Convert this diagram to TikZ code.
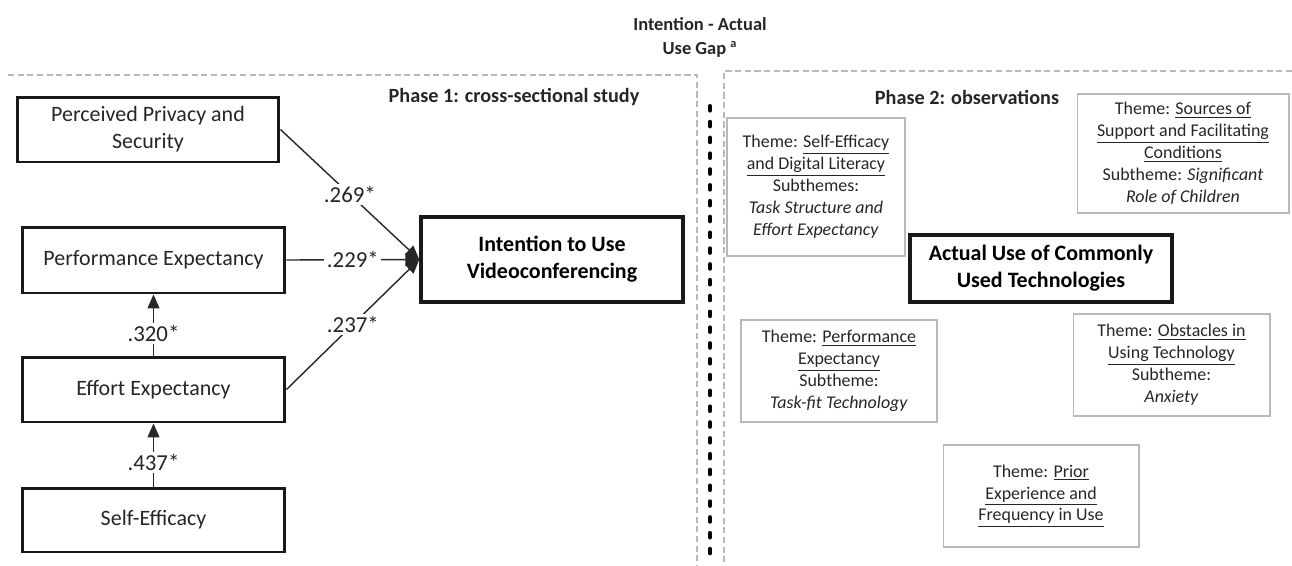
\documentclass[tikz,border=0pt]{standalone}
\usepackage{fontspec}
\setmainfont{Carlito}
\usetikzlibrary{arrows.meta,positioning}

\begin{document}
\begin{tikzpicture}[x=0.02cm,y=-0.02cm,
  construct/.style={draw=black!90,line width=1.7pt,align=center,text=black!85,
    font=\fontsize{12.5}{15.4}\selectfont,inner sep=2pt},
  outcome/.style={construct,line width=2pt,font=\bfseries\fontsize{12.5}{15.4}\selectfont,text=black},
  themebox/.style={draw=gray!55,line width=0.6pt,align=center,text=black!85,
    font=\fontsize{10.2}{12.5}\selectfont,inner sep=2pt},
  coef/.style={fill=white,inner sep=1.5pt,text=black!85,font=\fontsize{13}{15}\selectfont},
  effect/.style={line width=0.8pt,draw=black!85,-{Triangle[width=0.24cm,length=0.28cm]}},
  panel/.style={draw=gray!55,line width=0.7pt,dash pattern=on 3.5pt off 2pt},
  heading/.style={font=\bfseries\fontsize{11.5}{14}\selectfont,text=black!85},
]
\useasboundingbox (0,0) rectangle (1292,565);

% Title
\node[align=center,font=\bfseries\fontsize{10.5}{14}\selectfont,text=black!85] (gaptitle) at (700,37.5)
  {Intention - Actual\\Use Gap \textsuperscript{\scriptsize a}};

% Panels
\draw[panel] (8,75) -- (697,75) -- (697,565);
\draw[panel] (1292,71) -- (724,71) -- (724,565);
\draw[line width=2.3pt,line cap=round,dash pattern=on 2.6pt off 6.4pt] (710,106) -- (710,556);

\node[heading] (phaseone) at (514,97) {Phase 1: cross-sectional study};
\node[heading] (phasetwo) at (967,97) {Phase 2: observations};

% Phase 1 model
\node[construct,minimum width=5.24cm,minimum height=1.30cm] (privacy) at (148,129.5) {Perceived Privacy and\\Security};
\node[construct,minimum width=5.26cm,minimum height=1.32cm] (performance) at (153.5,260) {Performance Expectancy};
\node[construct,minimum width=5.26cm,minimum height=1.30cm] (effort) at (153.5,389.5) {Effort Expectancy};
\node[construct,minimum width=5.26cm,minimum height=1.28cm] (selfefficacy) at (153.5,520) {Self-Efficacy};
\node[outcome,minimum width=5.24cm,minimum height=1.70cm] (intention) at (552,259.5) {Intention to Use\\Videoconferencing};

\draw[effect] (privacy.east) -- node[coef] {.269*} (intention.west);
\draw[effect] (performance.east) -- node[coef] {.229*} (intention.west);
\draw[effect] (effort.east) -- node[coef] {.237*} (intention.west);
\draw[effect] (effort.north) -- node[coef,pos=0.36] {.320*} (performance.south);
\draw[effect] (selfefficacy.north) -- node[coef,pos=0.38] {.437*} (effort.south);

% Phase 2 themes
\node[outcome,minimum width=5.24cm,minimum height=1.34cm] (actualuse) at (1041,268.5) {Actual Use of Commonly\\Used Technologies};

\node[themebox,minimum width=3.56cm,minimum height=2.76cm] (thmefficacy) at (816,187)
  {Theme: \underline{Self-Efficacy}\\\underline{and Digital Literacy}\\Subthemes:\\\textit{Task Structure and}\\\textit{Effort Expectancy}};
\node[themebox,minimum width=4.24cm,minimum height=2.38cm] (thmsupport) at (1183,153.5)
  {Theme: \underline{Sources of}\\\underline{Support and Facilitating}\\\underline{Conditions}\\Subtheme: \textit{Significant}\\\textit{Role of Children}};
\node[themebox,minimum width=3.92cm,minimum height=2.04cm] (thmperformance) at (839,371)
  {Theme: \underline{Performance}\\\underline{Expectancy}\\Subtheme:\\\textit{Task-fit Technology}};
\node[themebox,minimum width=3.94cm,minimum height=2.04cm] (thmobstacles) at (1171.5,365)
  {Theme: \underline{Obstacles in}\\\underline{Using Technology}\\Subtheme:\\\textit{Anxiety}};
\node[themebox,minimum width=3.92cm,minimum height=2.04cm] (thmprior) at (1041,496)
  {Theme: \underline{Prior}\\\underline{Experience and}\\\underline{Frequency in Use}};
\end{tikzpicture}
\end{document}
